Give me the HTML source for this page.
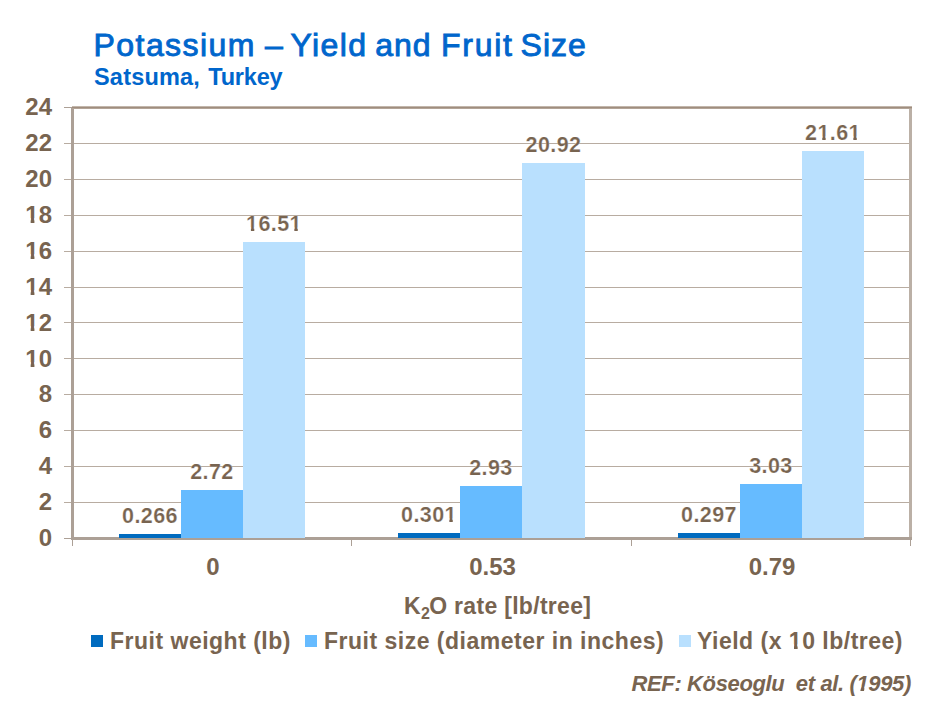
<!DOCTYPE html>
<html>
<head>
<meta charset="utf-8">
<style>
html,body{margin:0;padding:0;background:#fff;}
body{width:933px;height:710px;position:relative;overflow:hidden;font-family:"Liberation Sans",Arial,sans-serif;}
.t{position:absolute;white-space:nowrap;line-height:1;}
.title{left:0;top:29px;width:933px;height:34px;font-size:32px;color:#0066cc;-webkit-text-stroke:0.9px #0066cc;}
.title span{position:absolute;top:0;}
.sub{left:0;top:66px;width:933px;height:26px;font-size:23.5px;font-weight:bold;color:#0066cc;}
.sub span{position:absolute;top:0;}
.br{color:#786450;font-weight:bold;}
.yl{font-size:24px;width:40px;text-align:right;left:12px;}
.vl{font-size:21.5px;width:100px;text-align:center;letter-spacing:0.4px;-webkit-text-stroke:0.2px #fff;}
.xl{font-size:24px;width:120px;text-align:center;}
.g{position:absolute;left:64px;width:845px;height:1px;background:#b8aca1;}
.tk{position:absolute;left:64px;width:8px;height:1px;background:#aca096;}
.xt{position:absolute;top:540px;width:1px;height:6px;background:#aca096;}
.bar{position:absolute;}
.b1{background:#006bbf;}
.b2{background:#66bbff;}
.b3{background:#b9e0fe;}
.lg{font-size:23px;letter-spacing:0.5px;}
.sq{position:absolute;width:12px;height:12px;}
.o{display:inline-block;clip-path:polygon(0 0,100% 0,100% 0.62em,0.381em 0.62em,0.381em 100%,0.223em 100%,0.223em 0.62em,0 0.62em);}
.oi{display:inline-block;clip-path:polygon(0 0,100% 0,100% 0.6em,0.385em 0.6em,0.305em 100%,0.14em 100%,0.22em 0.6em,0 0.6em);}
.ref{font-size:22px;font-style:italic;letter-spacing:-0.37px;}
</style>
</head>
<body>
<div class="t title"><span style="left:93.6px;letter-spacing:1.42px">Potassium</span> <span style="left:265.0px;letter-spacing:1.0px">–</span> <span style="left:290.5px;letter-spacing:1.4px">Yield</span> <span style="left:375.2px;letter-spacing:1.0px">and</span> <span style="left:441.0px;letter-spacing:1.75px">Fruit</span> <span style="left:520.6px;letter-spacing:0.95px">Size</span></div>
<div class="t sub"><span style="left:94px;letter-spacing:0.2px">Satsuma,</span> <span style="left:208.3px;letter-spacing:-0.2px">Turkey</span></div>

<div class="g" style="top:143px"></div>
<div class="g" style="top:179px"></div>
<div class="g" style="top:215px"></div>
<div class="g" style="top:251px"></div>
<div class="g" style="top:287px"></div>
<div class="g" style="top:322px"></div>
<div class="g" style="top:358px"></div>
<div class="g" style="top:394px"></div>
<div class="g" style="top:430px"></div>
<div class="g" style="top:466px"></div>
<div class="g" style="top:502px"></div>
<div class="tk" style="top:107px"></div>
<div class="tk" style="top:538px"></div>
<div style="position:absolute;left:909px;top:107px;width:3px;height:433px;background:#bbb0a6"></div>
<div style="position:absolute;left:71px;top:107px;width:3px;height:433px;background:#aca096"></div>
<div style="position:absolute;left:72px;top:106px;width:840px;height:3px;background:linear-gradient(#c2b6ab 0,#c2b6ab 1px,#9f8d7e 1px,#9f8d7e 2px,#b3a497 2px)"></div>
<div style="position:absolute;left:71px;top:537px;width:841px;height:3px;background:#aca096"></div>
<div class="xt" style="left:72px"></div>
<div class="xt" style="left:351px"></div>
<div class="xt" style="left:631px"></div>
<div class="xt" style="left:910px"></div>
<div class="bar b1" style="left:119px;top:534px;width:62px;height:4px"></div>
<div class="bar b2" style="left:181px;top:490px;width:62px;height:48px"></div>
<div class="bar b3" style="left:243px;top:242px;width:62px;height:296px"></div>
<div class="bar b1" style="left:398px;top:533px;width:62px;height:5px"></div>
<div class="bar b2" style="left:460px;top:486px;width:62px;height:52px"></div>
<div class="bar b3" style="left:522px;top:163px;width:63px;height:375px"></div>
<div class="bar b1" style="left:678px;top:533px;width:62px;height:5px"></div>
<div class="bar b2" style="left:740px;top:484px;width:62px;height:54px"></div>
<div class="bar b3" style="left:802px;top:151px;width:62px;height:387px"></div>
<div class="t br yl" style="top:95px">24</div>
<div class="t br yl" style="top:131px">22</div>
<div class="t br yl" style="top:167px">20</div>
<div class="t br yl" style="top:203px"><span class="o">1</span>8</div>
<div class="t br yl" style="top:239px"><span class="o">1</span>6</div>
<div class="t br yl" style="top:275px"><span class="o">1</span>4</div>
<div class="t br yl" style="top:311px"><span class="o">1</span>2</div>
<div class="t br yl" style="top:347px"><span class="o">1</span>0</div>
<div class="t br yl" style="top:382px">8</div>
<div class="t br yl" style="top:418px">6</div>
<div class="t br yl" style="top:454px">4</div>
<div class="t br yl" style="top:490px">2</div>
<div class="t br yl" style="top:526px">0</div>
<div class="t br vl" style="left:100.0px;top:506px">0.266</div>
<div class="t br vl" style="left:162.0px;top:462px">2.72</div>
<div class="t br vl" style="left:224.0px;top:214px"><span class="o">1</span>6.5<span class="o">1</span></div>
<div class="t br vl" style="left:379.0px;top:505px">0.30<span class="o">1</span></div>
<div class="t br vl" style="left:441.0px;top:458px">2.93</div>
<div class="t br vl" style="left:503.5px;top:135px">20.92</div>
<div class="t br vl" style="left:659.0px;top:505px">0.297</div>
<div class="t br vl" style="left:721.0px;top:456px">3.03</div>
<div class="t br vl" style="left:783.0px;top:123px">2<span class="o">1</span>.6<span class="o">1</span></div>
<div class="t br xl" style="left:153.0px;top:555px">0</div>
<div class="t br xl" style="left:432.5px;top:555px">0.53</div>
<div class="t br xl" style="left:712.0px;top:555px">0.79</div>

<div class="t br lg" style="left:404px;top:595px;letter-spacing:0.3px">K<span style="font-size:16px;position:relative;top:5px;letter-spacing:-0.6px">2</span>O rate [lb/tree]</div>

<div class="sq b1" style="left:91px;top:635px"></div>
<div class="t br lg" style="left:110px;top:630px">Fruit weight (lb)</div>
<div class="sq b2" style="left:305px;top:635px"></div>
<div class="t br lg" style="left:324px;top:630px">Fruit size (diameter in inches)</div>
<div class="sq b3" style="left:679px;top:635px"></div>
<div class="t br lg" style="left:697px;top:630px">Yield (x <span class="o">1</span>0 lb/tree)</div>

<div class="t br ref" style="left:631.5px;top:673px">REF: Köseoglu&nbsp; et al. (<span class="oi">1</span>995)</div>
</body>
</html>
